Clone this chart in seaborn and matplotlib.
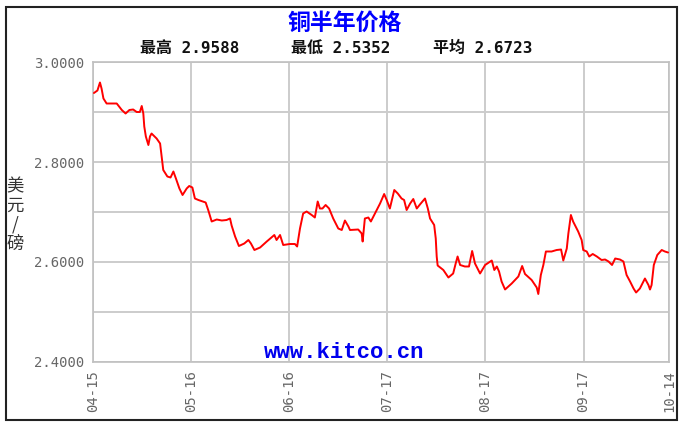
import numpy as np
import pandas as pd
import matplotlib
matplotlib.use("Agg")
import matplotlib.pyplot as plt
from matplotlib.patches import Rectangle
import seaborn as sns

# ======================================================
# 数据
# ======================================================
start_date = "2019-04-15"
# 距 04-15 的天数
days = [0.3, 1.4, 2.2, 2.7, 3.3, 4.3, 7.5, 9.1, 10.3, 11.5, 12.7, 13.8, 14.8, 15.4, 15.9,
        16.2, 16.7, 17.5, 18.0, 18.5, 20.1, 21.2, 21.7, 22.2, 23.5, 24.5, 25.4, 26.2, 27.3,
        28.3, 29.6, 30.4, 31.4, 32.2, 33.3, 35.6, 36.4, 37.5, 39.1, 40.7, 42.2, 43.3, 43.8,
        44.9, 46.1, 47.8, 49.1, 49.9, 51.0, 52.8, 54.9, 57.3, 58.0, 59.1, 60.1, 62.2, 63.8,
        64.5, 65.4, 66.4, 67.5, 69.1, 70.1, 71.0, 71.7, 72.5, 73.5, 74.6, 75.9, 77.5, 78.6,
        79.6, 80.7, 81.2, 83.8, 84.9, 85.2, 85.9, 87.0, 87.8, 89.1, 90.7, 92.0, 92.8, 93.8,
        95.2, 96.3, 97.5, 98.3, 99.1, 100.2, 101.2, 102.3, 103.3, 104.9, 105.8, 106.5, 107.8,
        108.3, 108.6, 108.9, 110.7, 112.3, 113.8, 114.6, 115.2, 116.0, 117.5, 118.8, 119.8,
        120.7, 122.3, 123.9, 126.0, 126.8, 127.6, 128.3, 129.1, 130.2, 132.3, 134.4, 135.6,
        136.5, 138.6, 140.2, 140.7, 141.5, 142.3, 143.1, 144.9, 146.5, 147.9, 148.6, 149.7,
        150.2, 151.0, 151.7, 153.3, 154.4, 154.9, 156.0, 156.8, 157.9, 159.2, 160.7, 161.8,
        162.9, 164.0, 165.0, 166.5, 167.6, 168.6, 169.7, 170.8, 171.6, 172.8, 174.4, 175.5,
        176.0, 176.5, 177.2, 178.3, 179.7, 180.7, 181.7]
price = [2.938, 2.943, 2.959, 2.947, 2.927, 2.917, 2.917, 2.904, 2.897, 2.904, 2.905, 2.900,
         2.900, 2.912, 2.897, 2.871, 2.851, 2.834, 2.851, 2.857, 2.847, 2.837, 2.811, 2.784,
         2.771, 2.769, 2.781, 2.767, 2.747, 2.734, 2.747, 2.752, 2.749, 2.727, 2.724, 2.719,
         2.704, 2.681, 2.685, 2.683, 2.684, 2.687, 2.673, 2.651, 2.632, 2.637, 2.644, 2.637,
         2.624, 2.629, 2.641, 2.654, 2.644, 2.654, 2.634, 2.636, 2.636, 2.631, 2.667, 2.697,
         2.701, 2.694, 2.689, 2.721, 2.707, 2.707, 2.714, 2.707, 2.687, 2.667, 2.664, 2.683,
         2.671, 2.664, 2.665, 2.657, 2.641, 2.687, 2.689, 2.681, 2.697, 2.717, 2.736, 2.724,
         2.707, 2.744, 2.737, 2.727, 2.724, 2.704, 2.717, 2.726, 2.707, 2.715, 2.727, 2.707,
         2.687, 2.674, 2.647, 2.611, 2.593, 2.584, 2.569, 2.577, 2.597, 2.611, 2.594, 2.591,
         2.591, 2.622, 2.597, 2.577, 2.594, 2.603, 2.584, 2.591, 2.581, 2.561, 2.545, 2.557,
         2.571, 2.592, 2.576, 2.564, 2.549, 2.536, 2.574, 2.594, 2.621, 2.621, 2.624, 2.625,
         2.603, 2.627, 2.657, 2.694, 2.681, 2.661, 2.644, 2.624, 2.621, 2.611, 2.616, 2.611,
         2.604, 2.605, 2.601, 2.594, 2.607, 2.605, 2.601, 2.574, 2.561, 2.547, 2.539, 2.547,
         2.567, 2.554, 2.545, 2.554, 2.594, 2.614, 2.624, 2.621, 2.619]

tick_dates = ["2019-04-15", "2019-05-16", "2019-06-16", "2019-07-17",
              "2019-08-17", "2019-09-17", "2019-10-14"]
tick_labels = ["04-15", "05-16", "06-16", "07-17", "08-17", "09-17", "10-14"]
y_major = [2.4, 2.6, 2.8, 3.0]
y_minor = [2.5, 2.7, 2.9]

title = "铜半年价格"
stats = [("最高", "2.9588"), ("最低", "2.5352"), ("平均", "2.6723")]

df = pd.DataFrame({
    "date": pd.Timestamp(start_date) + pd.to_timedelta(days, unit="D"),
    "price": price,
})

# ======================================================
# 绘图
# ======================================================
sns.set_style("white")
plt.rcParams["font.family"] = ["DejaVu Sans Mono", "Noto Sans CJK SC", "DejaVu Sans"]

fig = plt.figure(figsize=(6.83, 4.28), dpi=100)
ax = fig.add_axes([93 / 683, 66 / 428, 576 / 683, 300 / 428])

sns.lineplot(data=df, x="date", y="price", ax=ax, color="#ff0000", linewidth=1.4,
             estimator=None, sort=False, zorder=3)

ax.set_xlim(pd.Timestamp(tick_dates[0]), pd.Timestamp(tick_dates[-1]))
ax.set_ylim(2.4, 3.0)

ax.set_xticks([pd.Timestamp(d) for d in tick_dates])
ax.set_xticklabels(tick_labels, rotation=90, color="#666666", fontsize=10,
                   family="DejaVu Sans Mono")
ax.set_yticks(y_major)
ax.set_yticks(y_minor, minor=True)
ax.set_yticklabels([f"{v:.4f}" for v in y_major], color="#666666", fontsize=10,
                   family="DejaVu Sans Mono")
ax.tick_params(axis="both", which="both", length=3, color="#bbbbbb", pad=3)
ax.tick_params(axis="y", which="minor", length=0)

ax.grid(True, which="both", color="#cccccc", linewidth=1.4)
for s in ax.spines.values():
    s.set_color("#c0c0c0")
    s.set_linewidth(1.2)

ax.set_xlabel("")
ax.set_ylabel("")

# 水印
ax.text(0.436, 0.033, "www.kitco.cn", transform=ax.transAxes, ha="center", va="center",
        color="#0000ee", fontsize=16, fontweight="bold", family="Liberation Mono", zorder=4)

# 标题与统计
fig.text(345 / 683, 1 - 23.5 / 428, title, ha="center", va="center", color="#0000ff",
         fontsize=16.5, fontweight="bold", family=["Noto Sans CJK SC", "DejaVu Sans"])
stat_x = [190, 341, 483]
for (name, val), xc in zip(stats, stat_x):
    fig.text(xc / 683, 1 - 48 / 428, f"{name} {val}", ha="center", va="center",
             color="#111111", fontsize=11.5, fontweight="bold")

# 纵轴单位（竖排）
fig.text(15 / 683, 1 - 215 / 428, "美\n元\n/\n磅", ha="center", va="center",
         color="#333333", fontsize=12.5, linespacing=1.1,
         family=["Noto Sans CJK SC", "DejaVu Sans"])

# 外框
fig.patches.append(Rectangle((6 / 683, 8 / 428), 671 / 683, 413 / 428,
                             transform=fig.transFigure, fill=False,
                             edgecolor="#222222", linewidth=1.5))

fig.savefig("out.png", dpi=100)
